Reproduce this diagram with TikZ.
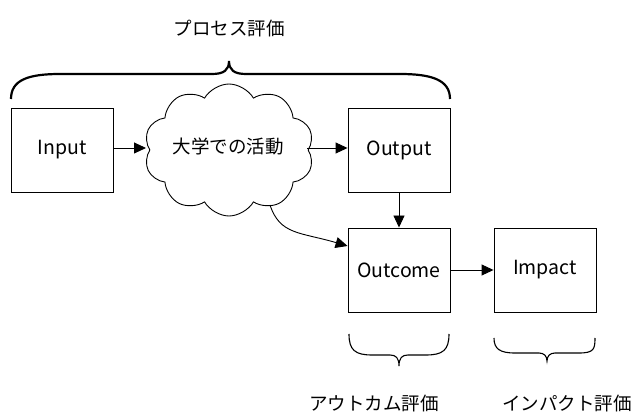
\documentclass[tikz,border=0pt]{standalone}
\usepackage{fontspec}
\setmainfont{Noto Sans CJK JP}
\usetikzlibrary{shapes.symbols,arrows.meta}
\tikzset{
    stage/.style={draw, line width=0.9pt, minimum width=102pt, minimum height=84pt, inner sep=0pt,
                  font=\fontsize{19.5}{22}\selectfont},
    link/.style={-{Triangle[length=12pt,width=11pt]}, line width=0.9pt},
    evallabel/.style={font=\fontsize{18.5}{21}\selectfont}
}
\begin{document}
\begin{tikzpicture}[x=1pt, y=-1pt, font=\fontsize{18.5}{21}\selectfont]
    \useasboundingbox (0,0) rectangle (633,414);
    \node[stage] (input) at (62,150) {Input};
    \node[cloud, draw, line width=0.9pt, cloud puffs=10, cloud puff arc=120, aspect=1.3,
          minimum width=170pt, minimum height=132pt, inner sep=0pt] (activity) at (229,150) {};
    \node (activitytext) at (228,146) {大学での活動};
    \node[stage] (output) at (399,150) {Output};
    \node[stage] (outcome) at (399,270) {Outcome};
    \node[stage] (impact) at (545,270) {Impact};
    \draw[link] (input.east |- 0,148) -- (146,148);
    \draw[link] (307,148) -- (output.west |- 0,148);
    \draw[link] (output) -- (outcome);
    \draw[link] (outcome) -- (impact);
    \draw[link] (270,205) .. controls (280,235) and (300,232) .. (outcome.west |- 0,246);
    % braces
    \draw[line width=2.2pt] (11,99) .. controls (11,80) and (28,74) .. (60,74) -- (212,74)
        .. controls (224,74) and (229,70) .. (229,61) .. controls (229,70) and (234,74) .. (246,74)
        -- (400,74) .. controls (432,74) and (450,80) .. (450,99);
    \draw[line width=1.1pt] (349,334) .. controls (349,350) and (355,355) .. (372,355) -- (390,355)
        .. controls (396,355) and (399,358) .. (399,366) .. controls (399,358) and (402,355) .. (408,355)
        -- (426,355) .. controls (443,355) and (449,350) .. (449,334);
    \draw[line width=1.1pt] (494,338) .. controls (494,349) and (500,353) .. (515,353) -- (539,353)
        .. controls (544,353) and (547,356) .. (547,361) .. controls (547,356) and (550,353) .. (555,353)
        -- (579,353) .. controls (594,353) and (595,349) .. (595,338);
    \node[evallabel] (process) at (229,28) {プロセス評価};
    \node[evallabel] (outcomeeval) at (374,403) {アウトカム評価};
    \node[evallabel] (impacteval) at (567,403) {インパクト評価};
\end{tikzpicture}
\end{document}
